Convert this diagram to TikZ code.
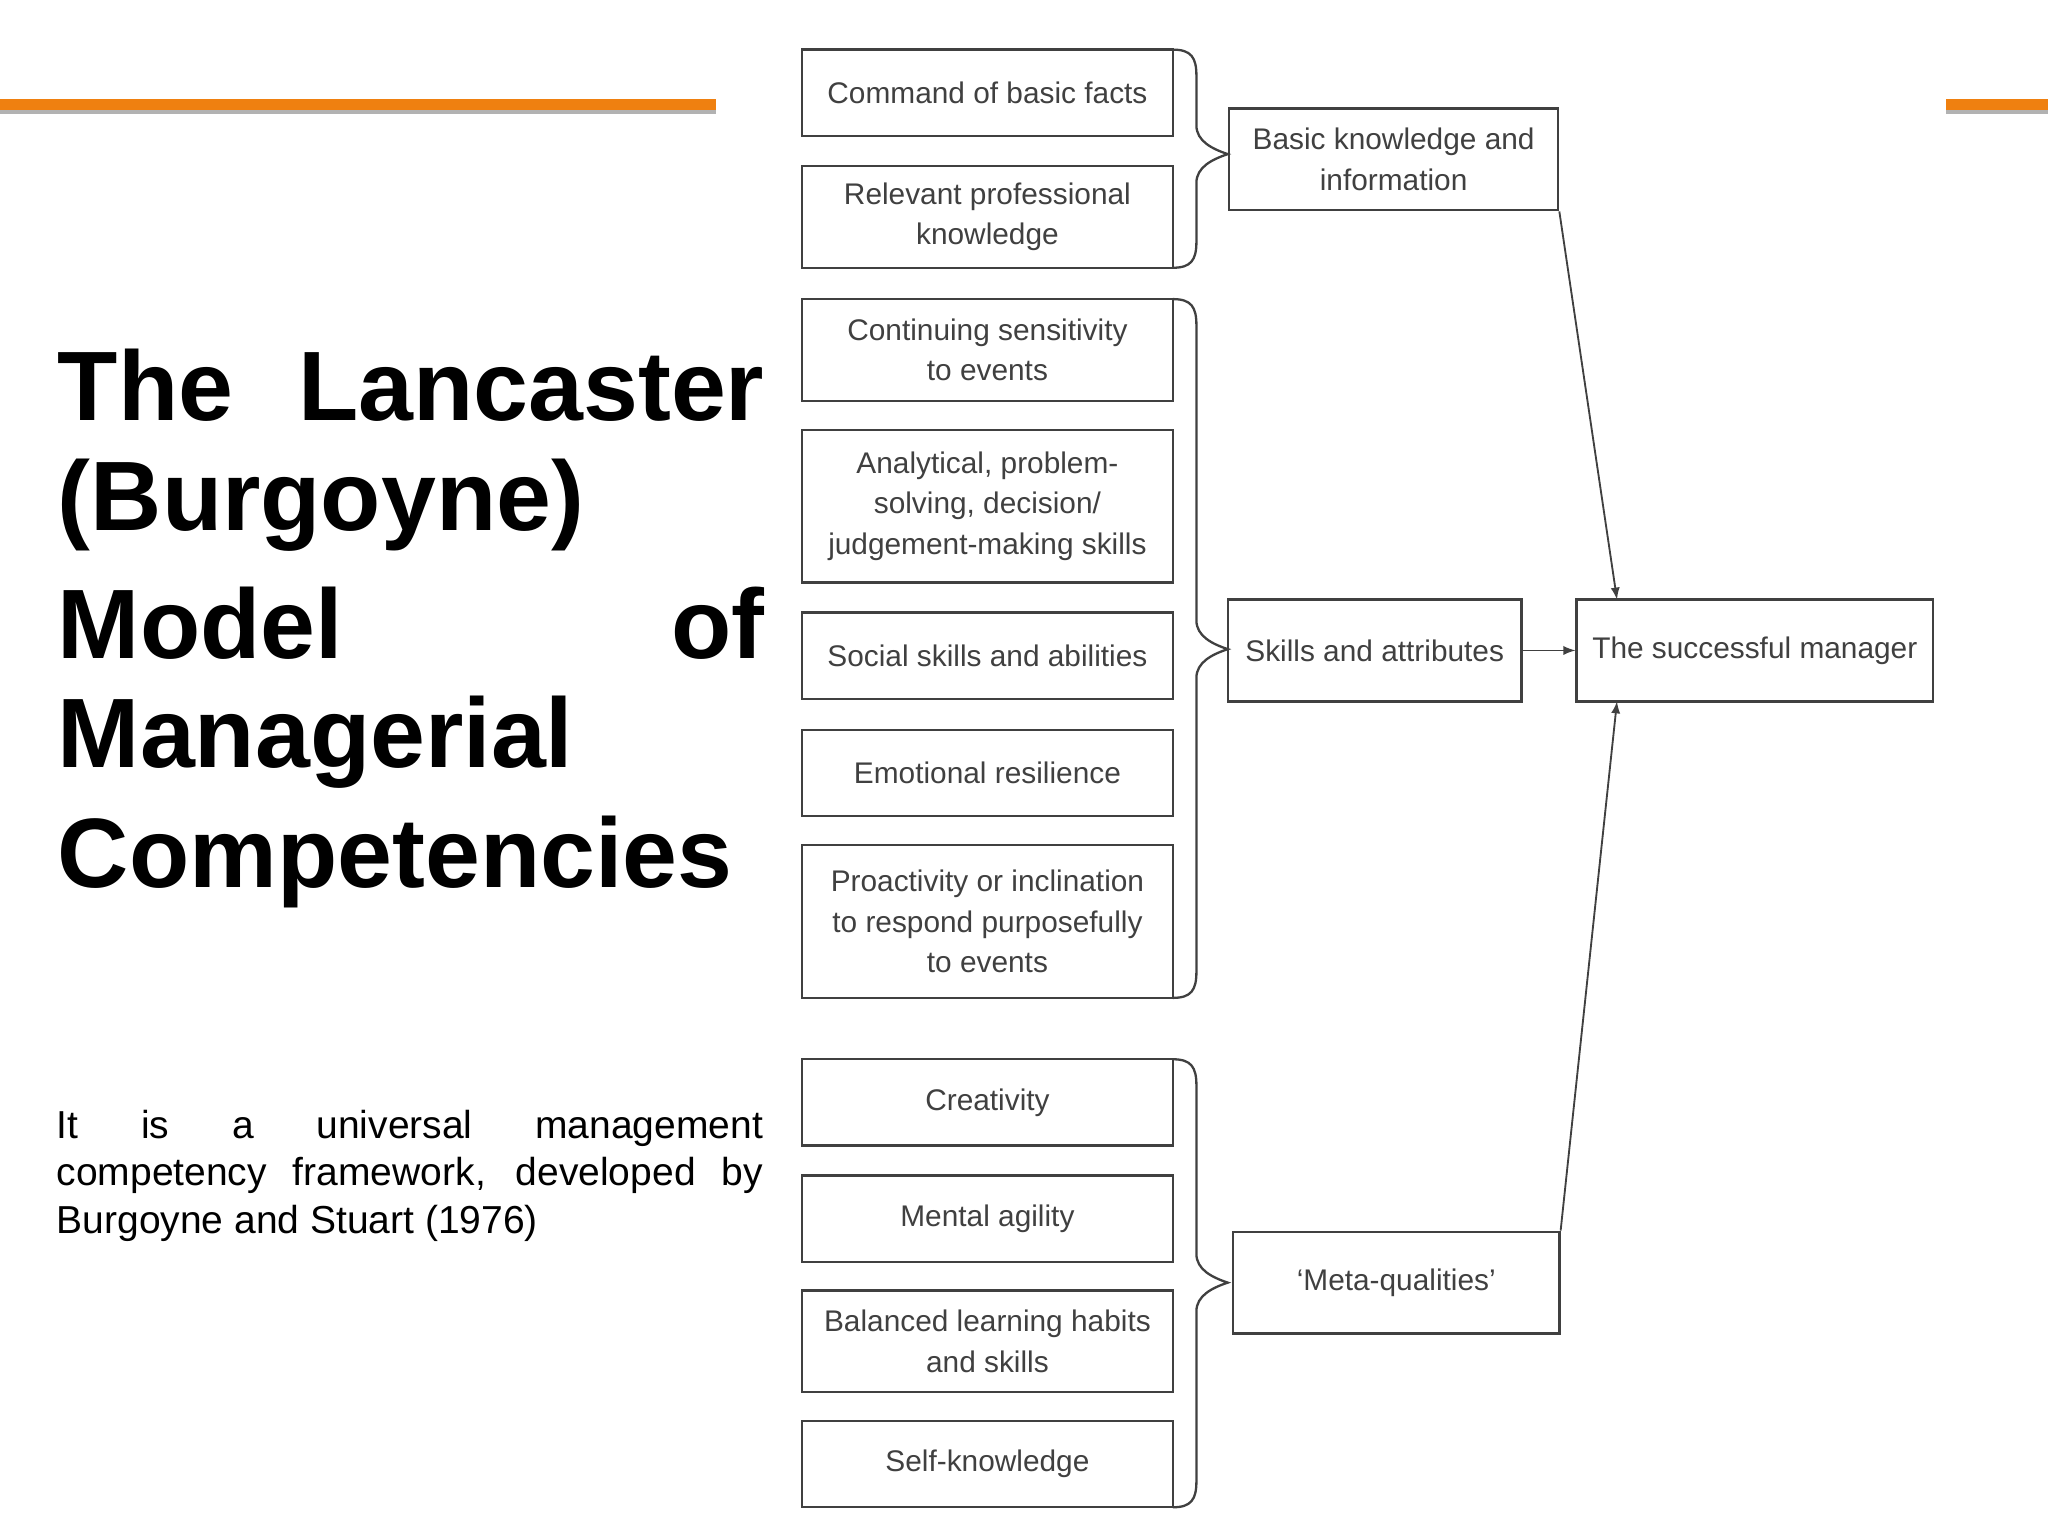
\documentclass[tikz,border=0pt]{standalone}
\usepackage{fontspec}
\setmainfont{Liberation Sans}
\begin{document}
\begin{tikzpicture}[x=0.02cm,y=-0.02cm,
  box/.style={draw=black!75,line width=1pt,align=center,inner sep=2pt,font=\fontsize{13}{17.5}\selectfont,text=black!75},
  lbox/.style={box,minimum width=5.68cm},
  brk/.style={draw=black!75,line width=1pt},
  arr/.style={draw=black!75,line width=0.8pt,-latex}]
\useasboundingbox (0,0) rectangle (1568,1176);
\fill[white] (0,0) rectangle (1568,1176);
\fill[orange!75!brown] (0,76) rectangle (548,84);
\fill[orange!75!brown] (1490,76) rectangle (1568,84);
\fill[gray!60] (0,84) rectangle (548,87);
\fill[gray!60] (1490,84) rectangle (1568,87);
% title
\begin{scope}[every node/.style={anchor=west,inner sep=0,font=\fontsize{43}{50}\bfseries\selectfont}]
\node (t1) at (44,295) {\makebox[10.82cm][s]{The Lancaster}};
\node (t2) at (44,387) {(Burgoyne)};
\node (t3) at (44,477) {\makebox[10.82cm][s]{Model of}};
\node (t4) at (44,568) {Managerial};
\node (t5) at (44,660) {Competencies};
\end{scope}
\begin{scope}[every node/.style={anchor=west,inner sep=0,font=\fontsize{17}{20}\selectfont}]
\node (b1) at (43,864) {\makebox[10.82cm][s]{It is a universal management}};
\node (b2) at (43,900) {\makebox[10.82cm][s]{competency framework, developed by}};
\node (b3) at (43,937) {Burgoyne and Stuart (1976)};
\end{scope}
% left boxes
\node[lbox,minimum height=1.32cm] (n1) at (756,71) {Command of basic facts};
\node[lbox,minimum height=1.56cm] (n2) at (756,166) {Relevant professional\\knowledge};
\node[lbox,minimum height=1.56cm] (n3) at (756,268) {Continuing sensitivity\\to events};
\node[lbox,minimum height=2.34cm] (n4) at (756,387.5) {Analytical, problem-\\solving, decision/\\judgement-making skills};
\node[lbox,minimum height=1.32cm] (n5) at (756,502) {Social skills and abilities};
\node[lbox,minimum height=1.32cm] (n6) at (756,592) {Emotional resilience};
\node[lbox,minimum height=2.34cm] (n7) at (756,705.5) {Proactivity or inclination\\to respond purposefully\\to events};
\node[lbox,minimum height=1.32cm] (n8) at (756,844) {Creativity};
\node[lbox,minimum height=1.32cm] (n9) at (756,933) {Mental agility};
\node[lbox,minimum height=1.56cm] (n10) at (756,1027) {Balanced learning habits\\and skills};
\node[lbox,minimum height=1.32cm] (n11) at (756,1121) {Self-knowledge};
% brackets
\foreach \t/\m/\b in {38/118/205, 229/497/764, 811/982/1154}{
  \draw[brk] (898,\t) .. controls (912,\t) and (916,\t+6) .. (916,\t+20) -- (916,\m-22)
     .. controls (916,\m-10) and (928,\m-4) .. (940,\m)
     .. controls (928,\m+4) and (916,\m+10) .. (916,\m+22) -- (916,\b-20)
     .. controls (916,\b-6) and (912,\b) .. (898,\b);
}
% middle boxes
\node[box,minimum width=5.04cm,minimum height=1.56cm] (m1) at (1067,122) {Basic knowledge and\\information};
\node[box,minimum width=4.5cm,minimum height=1.56cm] (m2) at (1052.5,498) {Skills and attributes};
\node[box,minimum width=5cm,minimum height=1.56cm] (m3) at (1069,982) {`Meta-qualities'};
\node[box,minimum width=5.46cm,minimum height=1.56cm] (s) at (1343.5,498) {The successful manager};
\coordinate (sa) at (1238,459);
\coordinate (sb) at (1238,537);
\draw[arr] (m1.south east) -- (sa);
\draw[arr] (m2) -- (s);
\draw[arr] (m3.north east) -- (sb);
\end{tikzpicture}
\end{document}
